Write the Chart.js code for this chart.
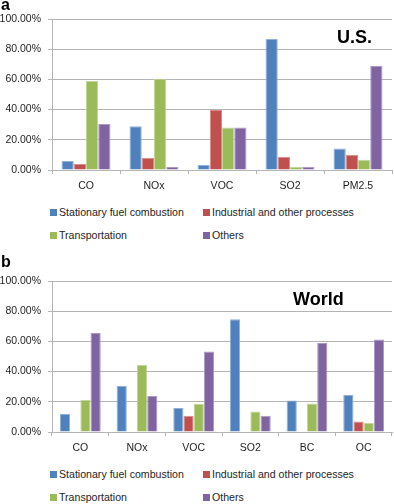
<!DOCTYPE html>
<html>
<head>
<meta charset="utf-8">
<script src="https://cdn.jsdelivr.net/npm/chart.js@4.4.1/dist/chart.umd.min.js"></script>
<style>
  html, body { margin: 0; padding: 0; background: #fff; overflow: hidden; }
  body { width: 394px; height: 504px; position: relative; font-family: "Liberation Sans", Arial, sans-serif; color: #1e1e1e; }
  .panel { position: absolute; left: 0; width: 394px; height: 242px; }
  .panel canvas { position: absolute; left: 0; top: 0; }
  .letter { position: absolute; left: 1px; font-size: 16px; line-height: 16px; font-weight: bold; color: #000; }
  .title { position: absolute; font-size: 18px; line-height: 18px; font-weight: bold; color: #000; }
  .leg { position: absolute; height: 14px; display: flex; align-items: center; font-size: 10.6px; white-space: nowrap; }
  .leg i { display: inline-block; width: 7px; height: 7px; margin-right: 2px; }
</style>
</head>
<body>
<div class="panel" id="panelA" style="top:0">
  <canvas id="chartA" width="394" height="200"></canvas>
</div>
<div class="panel" id="panelB" style="top:262px">
  <canvas id="chartB" width="394" height="200"></canvas>
</div>
<script>
// series names and colours
const seriesNames = ['Stationary fuel combustion', 'Industrial and other processes', 'Transportation', 'Others'];
const seriesColors = ['#4f81bd', '#c0504d', '#9bbb59', '#8064a2'];
const seriesBorders = ['#8fb0da', '#da8b89', '#c2d69b', '#ab98c4'];

// (a) U.S., percent of total
const usCategories = ['CO', 'NOx', 'VOC', 'SO2', 'PM2.5'];
const usStationary = [5.9, 29.0, 3.3, 87.0, 14.3];
const usIndustrial = [4.0, 8.1, 39.8, 8.8, 10.1];
const usTransport  = [58.9, 60.4, 28.1, 2.2, 6.8];
const usOthers     = [30.5, 2.0, 28.1, 2.2, 68.8];

// (b) World, percent of total
const worldCategories = ['CO', 'NOx', 'VOC', 'SO2', 'BC', 'OC'];
const worldStationary = [12.0, 30.7, 15.9, 74.7, 20.8, 24.5];
const worldIndustrial = [0, 0, 10.8, 0, 0, 6.9];
const worldTransport  = [21.2, 44.6, 18.6, 13.5, 18.8, 6.0];
const worldOthers     = [65.6, 23.9, 53.3, 10.8, 59.0, 61.2];

const yTicks = [0, 20, 40, 60, 80, 100];
const GRID = '#b4b4b4';

function buildPanel(panelId, canvasId, letter, letterTop, title, titleLeft, categories, values) {
  const panel = document.getElementById(panelId);

  // panel letter + title inside plot
  const l = document.createElement('div');
  l.className = 'letter';
  l.style.top = letterTop + 'px';
  l.textContent = letter;
  panel.appendChild(l);

  const t = document.createElement('div');
  t.className = 'title';
  t.style.left = titleLeft + 'px';
  t.style.top = '28px';
  t.textContent = title;
  panel.appendChild(t);

  // legend in two columns, like the Excel original
  const legPos = [[50, 205], [203, 205], [50, 228], [203, 228]];
  seriesNames.forEach((name, i) => {
    const d = document.createElement('div');
    d.className = 'leg';
    d.style.left = legPos[i][0] + 'px';
    d.style.top = legPos[i][1] + 'px';
    const sw = document.createElement('i');
    sw.style.background = seriesColors[i];
    d.appendChild(sw);
    d.appendChild(document.createTextNode(name));
    panel.appendChild(d);
  });

  return new Chart(document.getElementById(canvasId), {
    type: 'bar',
    data: {
      labels: categories,
      datasets: seriesNames.map((name, i) => ({
        label: name,
        data: values[i],
        backgroundColor: seriesColors[i],
        borderColor: seriesBorders[i],
        borderWidth: 1,
        barPercentage: 1,
        categoryPercentage: 0.72
      }))
    },
    options: {
      responsive: false,
      animation: false,
      layout: { padding: { top: 19, right: 2, left: 0, bottom: 0 } },
      plugins: { legend: { display: false }, tooltip: { enabled: false } },
      scales: {
        x: {
          afterFit: (s) => { s.height = 30; },
          grid: { display: true, drawOnChartArea: false, drawTicks: true, tickLength: 4, color: GRID, offset: true },
          border: { display: true, color: GRID, width: 1 },
          ticks: { color: '#1e1e1e', padding: 6, font: { family: 'Liberation Sans', size: 10.5 } }
        },
        y: {
          min: 0,
          max: 100,
          afterFit: (s) => { s.width = 52; },
          afterBuildTicks: (s) => { s.ticks = yTicks.map(v => ({ value: v })); },
          grid: { color: GRID, tickLength: 4, lineWidth: 1 },
          border: { display: true, color: GRID, width: 1 },
          ticks: {
            color: '#1e1e1e',
            padding: 7,
            font: { family: 'Liberation Sans', size: 10.5 },
            callback: (v) => v.toFixed(2) + '%'
          }
        }
      }
    }
  });
}

buildPanel('panelA', 'chartA', 'a', -3, 'U.S.', 337, usCategories,
  [usStationary, usIndustrial, usTransport, usOthers]);
buildPanel('panelB', 'chartB', 'b', -8, 'World', 293, worldCategories,
  [worldStationary, worldIndustrial, worldTransport, worldOthers]);
</script>
</body>
</html>
